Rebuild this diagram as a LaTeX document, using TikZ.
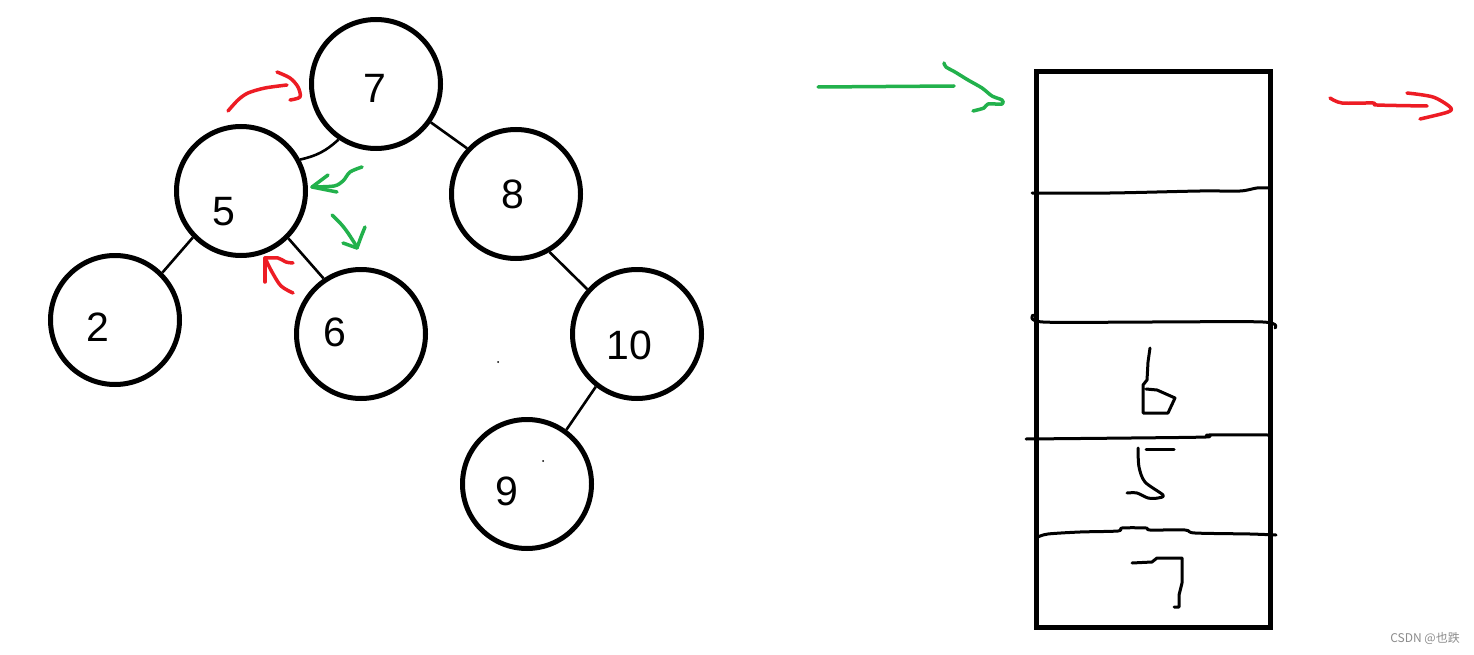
\documentclass[tikz,border=0pt]{standalone}
\usepackage{fontspec}
\setmainfont{Liberation Sans}
\newfontfamily\cjk{Noto Sans CJK SC}
\definecolor{pred}{RGB}{237,28,36}
\definecolor{pgreen}{RGB}{34,177,76}
\begin{document}
\begin{tikzpicture}[x=1pt,y=-1pt,
 tnode/.style={circle,draw,line width=5pt,minimum size=129pt,inner sep=0pt},
 digit/.style={font=\fontsize{41}{41}\selectfont,inner sep=0pt},
 conn/.style={line width=2.6pt},
 redstroke/.style={pred,line width=3.5pt,line cap=round,line join=round},
 greenstroke/.style={pgreen,line width=3.5pt,line cap=round,line join=round},
 ink/.style={black,line width=3pt,line cap=round,line join=round}]
\useasboundingbox (0,0) rectangle (1474,655);
\fill[white] (0,0) rectangle (1474,655);

% tree nodes
\node[tnode] (c7) at (376,84) {};
\node[tnode] (c5) at (241,191) {};
\node[tnode] (c8) at (516,194) {};
\node[tnode] (c2) at (115,320) {};
\node[tnode] (c6) at (361,334) {};
\node[tnode] (c10) at (637,334) {};
\node[tnode] (c9) at (527,484) {};

\node[digit] (t7) at (375,88) {7};
\node[digit] (t5) at (224,212) {5};
\node[digit] (t8) at (513,194) {8};
\node[digit] (t2) at (98,327) {2};
\node[digit] (t6) at (335,332) {6};
\node[digit] (t10) at (629,345) {10};
\node[digit] (t9) at (507,491) {9};

% connectors
\draw[conn] (c5.28) to[bend right=15] (c7.236);
\draw[conn] (c7.-35) -- (c8.137);
\draw[conn] (c8.-60) -- (c10.138);
\draw[conn] (c10.232) -- (c9.54);
\draw[conn] (c5.224) -- (c2.45);
\draw[conn] (c5.-45) -- (c6.124);

% stray dots
\fill (498,362) circle (1pt);
\fill (543,461) circle (1pt);

% traversal arrows
\draw[redstroke] plot[smooth] coordinates {(228,111) (238,100) (248,93) (265,88) (287,85)};
\draw[redstroke] plot[smooth] coordinates {(277,72) (290,78) (298,87) (300,97) (290,100)};
\draw[greenstroke] plot[smooth] coordinates {(362,167) (350,172) (343,181) (334,186) (312,187)};
\draw[greenstroke] (328,175) -- (312,187) -- (337,192);
\draw[greenstroke] plot[smooth] coordinates {(332,215) (341,224) (348,233) (357,247)};
\draw[greenstroke] plot[smooth] coordinates {(365,227) (361,237) (357,248)};
\draw[greenstroke] (343,243) -- (357,248);
\draw[redstroke] plot[smooth] coordinates {(293,293) (281,286) (272,272) (265,258)};
\draw[redstroke] (265,282) -- (265,258);
\draw[redstroke] plot[smooth] coordinates {(265,258) (278,258) (286,262) (293,263)};

% stack
\node[draw,line width=5pt,minimum width=234pt,minimum height=555pt,inner sep=0pt] (stack) at (1153,349.5) {};
\draw[ink] plot[smooth] coordinates {(1032,193) (1110,193) (1200,191) (1240,191) (1257,188) (1270,188)};
\draw[ink] plot[smooth] coordinates {(1033,315) (1043,322) (1150,322) (1263,322) (1275,328)};
\draw[ink] plot[smooth] coordinates {(1026,439) (1131,438) (1206,437) (1209,435) (1268,435)};
\draw[ink] plot[smooth] coordinates {(1038,537) (1048,534) (1080,532) (1118,531) (1122,528) (1146,528) (1150,530) (1185,530) (1195,533) (1250,534) (1276,535)};

% handwritten 6, 5, 7
\draw[ink] plot coordinates {(1150,348) (1148,362) (1147,380) (1143,385) (1143,413) (1168,413) (1175,398) (1157,390) (1146,389)};
\draw[ink] (1146,449) -- (1174,449);
\draw[ink] plot[smooth] coordinates {(1138,448) (1139,467) (1145,482) (1163,495) (1158,498) (1148,498) (1137,493) (1127,493)};
\draw[ink] plot coordinates {(1132,563) (1152,562) (1157,558) (1182,558) (1182,583) (1179,595) (1179,607) (1174,607)};

% incoming / outgoing arrows
\draw[greenstroke] (818,87) -- (954,86);
\draw[greenstroke] plot[smooth] coordinates {(944,63) (946,67) (955,72) (968,80) (982,88) (992,96) (1002,100) (1002,104) (988,104) (984,108) (973,111)};
\draw[redstroke] plot[smooth] coordinates {(1330,98) (1342,103) (1373,103) (1377,105) (1427,106)};
\draw[redstroke] plot[smooth] coordinates {(1407,93) (1433,97) (1450,107) (1448,112) (1420,119)};

% watermark
\node[text=black!45,font=\cjk\fontsize{12}{12}\selectfont,anchor=east,inner sep=0pt] (wm) at (1460,639) {CSDN @也跌};
\end{tikzpicture}
\end{document}
